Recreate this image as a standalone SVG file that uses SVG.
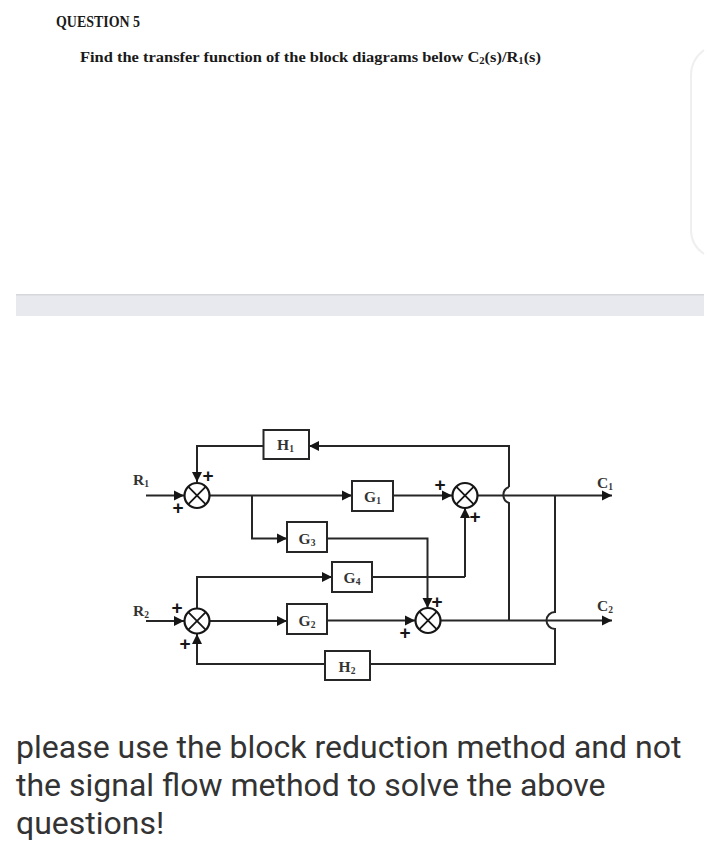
<svg xmlns="http://www.w3.org/2000/svg" width="720" height="854" viewBox="0 0 720 854">
<defs>
<marker id="ah" markerUnits="userSpaceOnUse" markerWidth="11" markerHeight="11" refX="10" refY="5.500" orient="auto"><path d="M0,0.500 L10,5.500 L0,10.500 Z" fill="#161616"/></marker>
</defs>
<style>
.c{fill:none;stroke:#262626;stroke-width:2}
.a{marker-end:url(#ah)}
.b{fill:#fff;stroke:#262626;stroke-width:2}
.s{fill:#fff;stroke:#161616;stroke-width:2.200}
.x{stroke:#161616;stroke-width:1.800}
.l{font-family:"Liberation Serif",serif;font-weight:bold;font-size:15.500px;fill:#333}
.m{text-anchor:middle}
.u{font-size:9.500px}
.p{font-family:"Liberation Sans",sans-serif;font-weight:bold;font-size:19px;fill:#161616;text-anchor:middle}
.h{font-family:"Liberation Serif",serif;font-weight:bold;fill:#1a1a1a}
.t{font-family:Roboto,sans-serif;font-size:32px;fill:#333}
</style>
<rect width="720" height="854" fill="#fff"/>
<text class="h" x="56" y="27" font-size="16" textLength="84" lengthAdjust="spacingAndGlyphs">QUESTION 5</text>
<text class="h" x="80" y="62" font-size="15.500" textLength="461" lengthAdjust="spacingAndGlyphs">Find the transfer function of the block diagrams below C<tspan font-size="10" dy="2">2</tspan><tspan dy="-2">(s)/R</tspan><tspan font-size="10" dy="2">1</tspan><tspan dy="-2">(s)</tspan></text>
<path d="M704,50 Q691,60 691,75 L691,230 Q691,245 704,254" fill="none" stroke="#efefef" stroke-width="2"/>
<rect x="16" y="294" width="688" height="22" fill="#e8e9ef"/>
<rect x="16" y="294" width="688" height="1.500" fill="#d6d7da"/>

<g id="connectors">
<path class="c a" d="M146,495.500 H184"/>
<path class="c a" d="M210,495.500 H352"/>
<path class="c a" d="M252,495.500 V538.500 H287"/>
<path class="c a" d="M263.500,446 H197 V482"/>
<path class="c a" d="M509,487 V446 H309"/>
<path class="c a" d="M393,495.500 H452"/>
<path class="c a" d="M478,495.500 H612"/>
<path class="c" d="M509,487 A8.500,8.500 0 0 0 509,503 V620.500"/>
<path class="c" d="M555,495.500 V612 A8.500,8.500 0 0 0 555,629 V664 H370"/>
<path class="c a" d="M465,577 V508"/>
<path class="c" d="M372,577 H465"/>
<path class="c a" d="M197,608 V577 H332"/>
<path class="c a" d="M146,621 H184"/>
<path class="c a" d="M210,621 H287"/>
<path class="c a" d="M327,538.500 H427.500 V608"/>
<path class="c a" d="M327,620.500 H415"/>
<path class="c a" d="M441,620.500 H612"/>
<path class="c a" d="M325,664 H197 V634"/>
</g>

<g id="sum1"><circle class="s" cx="197" cy="495.500" r="12.500"/><path class="x" d="M188.200,486.700 L205.800,504.300 M205.800,486.700 L188.200,504.300"/><text class="p" x="208" y="481.500">+</text><text class="p" x="178" y="513.500">+</text></g>
<g id="sum2"><circle class="s" cx="465" cy="495.500" r="12.500"/><path class="x" d="M456.200,486.700 L473.800,504.300 M473.800,486.700 L456.200,504.300"/><text class="p" x="440" y="490.500">+</text><text class="p" x="475" y="522.500">+</text></g>
<g id="sum3"><circle class="s" cx="428" cy="620.500" r="12.500"/><path class="x" d="M419.200,611.700 L436.800,629.300 M436.800,611.700 L419.200,629.300"/><text class="p" x="437" y="607.500">+</text><text class="p" x="405" y="638.500">+</text></g>
<g id="sum4"><circle class="s" cx="197" cy="621" r="12.500"/><path class="x" d="M188.200,612.200 L205.800,629.800 M205.800,612.200 L188.200,629.800"/><text class="p" x="177" y="613.500">+</text><text class="p" x="185" y="649.500">+</text></g>

<g id="H1"><rect class="b" x="263.500" y="430" width="45.500" height="29"/><text class="l m" x="285.500" y="450">H<tspan class="u" dy="2">1</tspan></text></g>
<g id="G1"><rect class="b" x="352" y="481" width="41" height="30"/><text class="l m" x="372.500" y="502">G<tspan class="u" dy="2">1</tspan></text></g>
<g id="G3"><rect class="b" x="287" y="522" width="40" height="30"/><text class="l m" x="307" y="544">G<tspan class="u" dy="2">3</tspan></text></g>
<g id="G4"><rect class="b" x="332" y="562" width="40" height="30"/><text class="l m" x="352" y="583">G<tspan class="u" dy="2">4</tspan></text></g>
<g id="G2"><rect class="b" x="287" y="604" width="40" height="30"/><text class="l m" x="307" y="626">G<tspan class="u" dy="2">2</tspan></text></g>
<g id="H2"><rect class="b" x="325" y="651" width="45" height="29"/><text class="l m" x="347" y="672">H<tspan class="u" dy="2">2</tspan></text></g>

<g id="labels">
<text class="l" x="133" y="485">R<tspan class="u" dy="2">1</tspan></text>
<text class="l" x="133" y="616">R<tspan class="u" dy="2">2</tspan></text>
<text class="l" x="597" y="488">C<tspan class="u" dy="2">1</tspan></text>
<text class="l" x="597" y="611">C<tspan class="u" dy="2">2</tspan></text>
</g>

<text class="t" x="16" y="758">please use the block reduction method and not</text>
<text class="t" x="16" y="796">the signal flow method to solve the above</text>
<text class="t" x="16" y="834">questions!</text>
</svg>
